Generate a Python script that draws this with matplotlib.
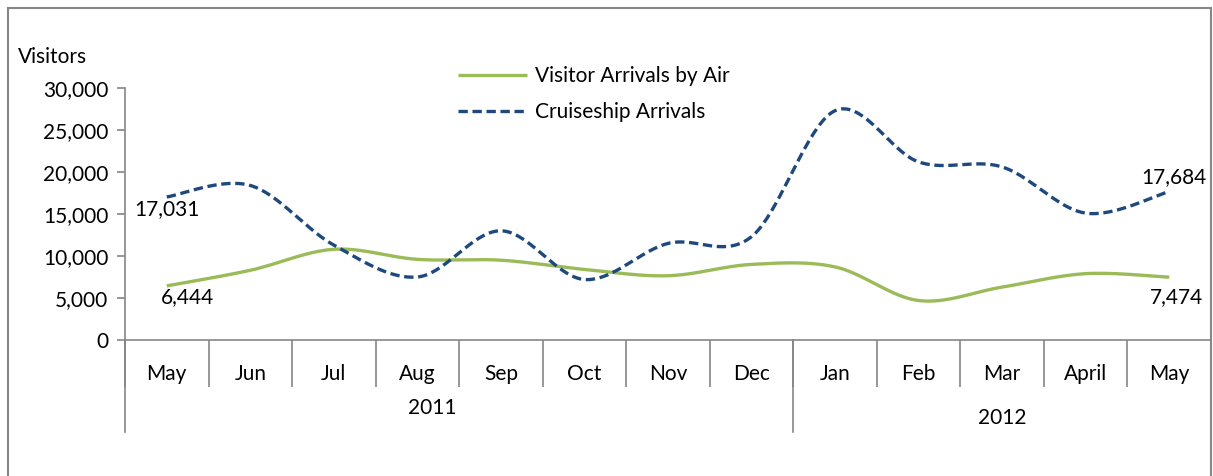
import matplotlib.pyplot as plt
import matplotlib.transforms as mtransforms
from matplotlib.patches import Rectangle
import numpy as np

plt.rcParams['font.family'] = ['Lato', 'DejaVu Sans']

months = ["May", "Jun", "Jul", "Aug", "Sep", "Oct", "Nov", "Dec",
          "Jan", "Feb", "Mar", "April", "May"]
years = ["2011", "2012"]
air = [6444, 8300, 10800, 9600, 9500, 8400, 7650, 9000, 8700, 4700, 6300, 7900, 7474]
cruise = [17031, 18400, 11300, 7500, 13000, 7200, 11500, 12300, 27300, 21200, 20600, 15100, 17684]

GREEN = "#9BBB59"
BLUE = "#1F497D"
GREY = "#868686"
FS = 15


def smooth(xs, ys, n=40):
    # excel-like smoothed line: cubic bezier with catmull-rom tangents
    p = np.column_stack([xs, ys]).astype(float)
    out = []
    for i in range(len(p) - 1):
        p0 = p[i - 1] if i > 0 else p[i]
        p1, p2 = p[i], p[i + 1]
        p3 = p[i + 2] if i + 2 < len(p) else p[i + 1]
        c1 = p1 + (p2 - p0) / 6
        c2 = p2 - (p3 - p1) / 6
        t = np.linspace(0, 1, n)[:, None]
        seg = ((1 - t) ** 3) * p1 + 3 * ((1 - t) ** 2) * t * c1 + 3 * (1 - t) * t ** 2 * c2 + t ** 3 * p2
        out.append(seg if i == 0 else seg[1:])
    out = np.vstack(out)
    return out[:, 0], out[:, 1]


fig = plt.figure(figsize=(12.13, 4.76), dpi=100)
ax = fig.add_axes([125 / 1213, 1 - 340 / 476, (1211 - 125) / 1213, (340 - 88) / 476])

x = np.arange(len(months))
sx, sy = smooth(x, air)
ax.plot(sx, sy, color=GREEN, lw=2.4, solid_capstyle='butt', label="Visitor Arrivals by Air")
sx, sy = smooth(x, cruise)
ax.plot(sx, sy, color=BLUE, lw=2.4, dashes=(2.8, 1.4), dash_capstyle='butt', label="Cruiseship Arrivals")

ax.set_xlim(-0.5, len(months) - 0.5)
ax.set_ylim(0, 30000)
ax.set_yticks(np.arange(0, 30001, 5000))
ax.set_yticklabels([f"{v:,}" for v in range(0, 30001, 5000)], fontsize=FS)
ax.tick_params(axis='y', length=6, width=1.2, color=GREY, pad=6)

# category boundaries as long ticks, months as minor labels
ax.set_xticks(np.arange(-0.5, len(months), 1.0))
ax.set_xticklabels([])
ax.tick_params(axis='x', which='major', length=34, width=1.2, color=GREY)
ax.set_xticks(x, minor=True)
ax.set_xticklabels(months, minor=True, fontsize=FS)
ax.tick_params(axis='x', which='minor', length=0, pad=17)

for s in ['top', 'right']:
    ax.spines[s].set_visible(False)
for s in ['left', 'bottom']:
    ax.spines[s].set_color(GREY)
    ax.spines[s].set_linewidth(1.2)

# year separators and labels
trans = mtransforms.blended_transform_factory(ax.transData, ax.transAxes)
for xb in [-0.5, 7.5]:
    ax.plot([xb, xb], [0, -92 / 252], transform=trans, color=GREY, lw=1.2, clip_on=False)
ax.text(3.18, -68 / 252, years[0], transform=trans, ha='center', va='center', fontsize=FS)
ax.text(10.0, -78 / 252, years[1], transform=trans, ha='center', va='center', fontsize=FS)

# data labels at the ends
ax.annotate(f"{cruise[0]:,}", (0, cruise[0]), xytext=(0, -9), textcoords='offset points',
            ha='center', va='center', fontsize=FS)
ax.annotate(f"{air[0]:,}", (0, air[0]), xytext=(15, -8), textcoords='offset points',
            ha='center', va='center', fontsize=FS)
ax.annotate(f"{cruise[-1]:,}", (12, cruise[-1]), xytext=(3, 10), textcoords='offset points',
            ha='center', va='center', fontsize=FS)
ax.annotate(f"{air[-1]:,}", (12, air[-1]), xytext=(5, -14), textcoords='offset points',
            ha='center', va='center', fontsize=FS)

fig.text(18 / 1213, 1 - 57 / 476, "Visitors", ha='left', va='center', fontsize=FS)

fig.legend(loc='center left', bbox_to_anchor=(458 / 1213, 1 - 94 / 476), frameon=False,
           fontsize=FS, handlelength=3.3, handletextpad=0.4, labelspacing=0.75,
           borderpad=0, borderaxespad=0)

# chart border
fig.patches.append(Rectangle((8 / 1213, -0.05), (1211 - 8) / 1213, 1.05 - 8 / 476,
                             transform=fig.transFigure, fill=False, edgecolor=GREY, lw=1.5))

fig.savefig("out.png", dpi=100)
